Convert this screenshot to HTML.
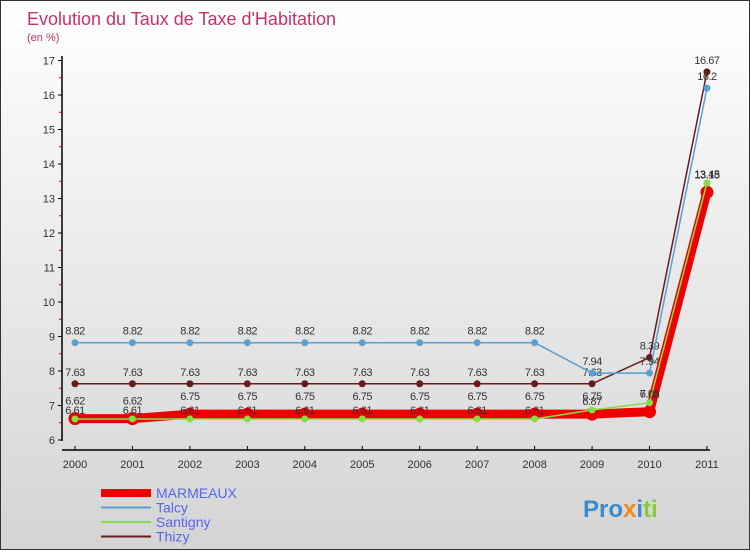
<!DOCTYPE html>
<html><head><meta charset="utf-8"><style>
body{margin:0;width:750px;height:550px;overflow:hidden;font-family:"Liberation Sans",sans-serif}
#wrap{position:relative;width:748px;height:548px;border:1px solid #333;background:linear-gradient(#ffffff,#d4d4d4)}
</style></head><body>
<div id="wrap">
<svg id="c" width="748" height="548"></svg>
</div>
<script>
const years=["2000","2001","2002","2003","2004","2005","2006","2007","2008","2009","2010","2011"];
const marmeaux=[6.62,6.62,6.75,6.75,6.75,6.75,6.75,6.75,6.75,6.75,6.82,13.18];
const talcy=[8.82,8.82,8.82,8.82,8.82,8.82,8.82,8.82,8.82,7.94,7.94,16.2];
const santigny=[6.61,6.61,6.61,6.61,6.61,6.61,6.61,6.61,6.61,6.87,7.08,13.45];
const thizy=[7.63,7.63,7.63,7.63,7.63,7.63,7.63,7.63,7.63,7.63,8.39,16.67];
const yTicks=[6,7,8,9,10,11,12,13,14,15,16,17];
const NS="http://www.w3.org/2000/svg";
const svg=document.getElementById('c');
function X(i){return 74+i*57.45;}
function Y(v){return 439-(v-6)*34.5;}
function mk(t,a,parent){const e=document.createElementNS(NS,t);for(const k in a)e.setAttribute(k,a[k]);(parent||svg).appendChild(e);return e;}
function txt(x,y,s,a){const e=mk('text',Object.assign({x:x,y:y},a));e.textContent=s;return e;}
let t=txt(26,24,"Evolution du Taux de Taxe d'Habitation",{fill:'#c8306a','font-size':18});


t=txt(26,40,"(en %)",{fill:'#c8306a','font-size':11});


// axes
let ax=mk('line',{x1:61,y1:55,x2:61,y2:440,stroke:'#000','stroke-width':1.5});


ax=mk('line',{x1:61,y1:449,x2:709,y2:449,stroke:'#000','stroke-width':1.5});


yTicks.forEach(v=>{
  mk('line',{x1:57,y1:Y(v),x2:61,y2:Y(v),stroke:'#000'});
  if(v<17)mk('line',{x1:58,y1:Y(v+0.5),x2:61,y2:Y(v+0.5),stroke:'#e00000'});
  const l=txt(54,Y(v)+4,String(v),{'font-size':11,fill:'#333','text-anchor':'end'});
  
  
});
years.forEach((y,i)=>{
  mk('line',{x1:X(i),y1:445,x2:X(i),y2:449,stroke:'#000'});
  const l=txt(X(i),467,y,{'font-size':11,fill:'#333','text-anchor':'middle'});
  
  
});
function series(data,color,w,r,name,labelDy){
  const g=mk('g',{});
  
  
  mk('polyline',{points:data.map((v,i)=>X(i)+','+Y(v)).join(' '),fill:'none',stroke:color,'stroke-width':w,'stroke-linejoin':'round'},g);
  data.forEach((v,i)=>{
    const p=mk('circle',{cx:X(i),cy:Y(v),r:r,fill:color},g);
    
    
    const l=txt(X(i),Y(v)+labelDy,String(v),{'font-size':11,fill:'#333','text-anchor':'middle','letter-spacing':'-0.5'});
    
    
  });
}
series(thizy,'#6b1a1a',1.5,3.5,'thizy',-8);
series(talcy,'#5aa0d0',1.5,3.5,'talcy',-8);
series(marmeaux,'#ee0000',9,6.5,'marmeaux',-14);
series(santigny,'#88dd44',1.5,3.5,'santigny',-5);
// legend
const leg=[["MARMEAUX","#ee0000",8],["Talcy","#5aa0d0",2],["Santigny","#88dd44",2],["Thizy","#6b1a1a",2]];
leg.forEach((e,i)=>{
  const g=mk('g',{});
  
  
  const y=492+i*14.5;
  mk('line',{x1:100,y1:y,x2:150,y2:y,stroke:e[1],'stroke-width':e[2]},g);
  const l=txt(155,y+5,e[0],{'font-size':14,fill:'#5566ee'},g);
});
const logo=txt(582,516,"Pro",{'font-size':24,'font-weight':'bold',fill:'#3a8ad0'});


const ts=mk('tspan',{fill:'#f08a1a'},logo);ts.textContent="x";
const ts2=mk('tspan',{fill:'#3a8ad0'},logo);ts2.textContent="i";
const ts3=mk('tspan',{fill:'#88cc33'},logo);ts3.textContent="ti";
</script>
</body></html>
